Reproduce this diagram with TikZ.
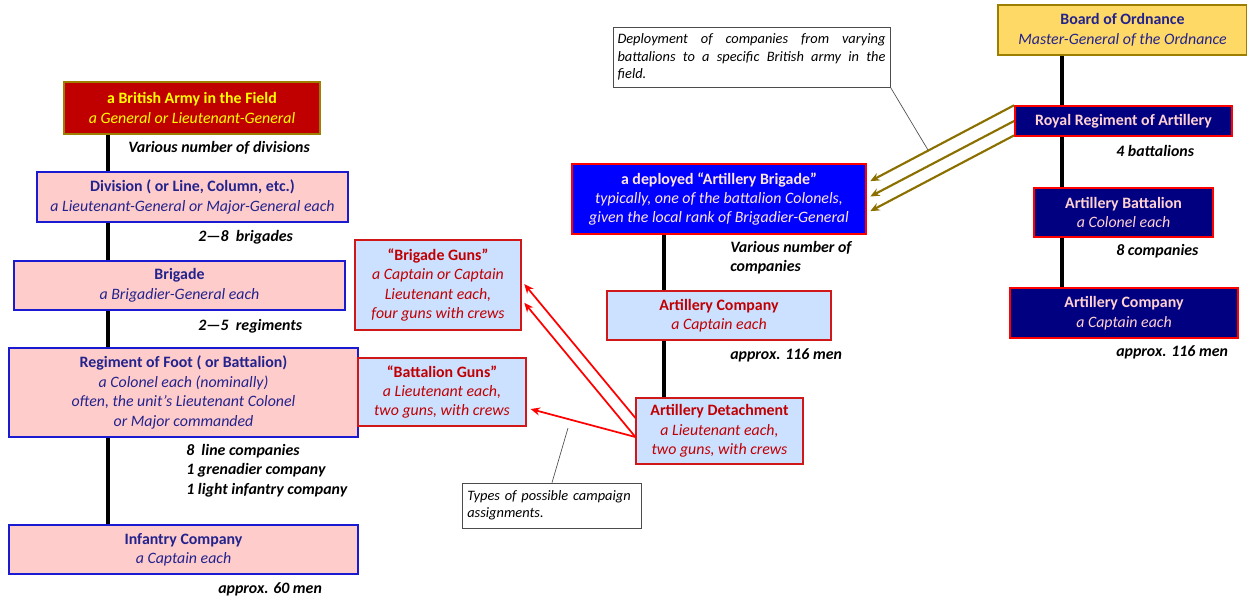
\documentclass[tikz,border=0pt]{standalone}
\usepackage{fontspec}
\setmainfont{Carlito}
\usepackage{xcolor}
\usepackage{tikz}
\usetikzlibrary{positioning,arrows.meta}

\definecolor{armyred}{HTML}{C00000}
\definecolor{armyedge}{HTML}{9C7F00}
\definecolor{armytext}{HTML}{FFFF00}
\definecolor{pinkfill}{HTML}{FFCCCC}
\definecolor{inkblue}{HTML}{23238C}
\definecolor{footedge}{HTML}{1A1AD0}
\definecolor{paleblue}{HTML}{CCE0FF}
\definecolor{gunred}{HTML}{C00000}
\definecolor{gunedge}{HTML}{D01818}
\definecolor{brigtext}{HTML}{FFE6E6}
\definecolor{ordyellow}{HTML}{FFD966}
\definecolor{navyfill}{HTML}{000080}
\definecolor{navytext}{HTML}{FFD2D2}
\definecolor{deployolive}{HTML}{8B7000}

\begin{document}
\begin{tikzpicture}[x=0.75pt,y=-0.75pt]
        % Styles for the boxes
        \tikzstyle{base} = [
            draw,
            line width=1.1pt,
            align=center,
            inner sep=2pt,
            font=\fontsize{11.9}{14.6}\selectfont
        ]
        \tikzstyle{army} = [base, fill=armyred, draw=armyedge, text=armytext]
        \tikzstyle{foot} = [base, fill=pinkfill, draw=footedge, text=inkblue]
        \tikzstyle{guns} = [base, fill=paleblue, draw=gunedge, text=gunred]
        \tikzstyle{deployed} = [base, fill=blue, draw=red, text=brigtext]
        \tikzstyle{ordnance} = [base, fill=ordyellow, draw=armyedge, text=inkblue]
        \tikzstyle{royal} = [base, fill=navyfill, draw=red, text=navytext]
        % Counts under the boxes, notes and lines
        \tikzstyle{count} = [anchor=west, align=left, inner sep=0pt,
            font=\fontsize{11.9}{14.6}\selectfont\bfseries\itshape]
        \tikzstyle{note} = [draw=gray!60!black, line width=0.5pt, fill=white,
            inner sep=3.5pt, font=\fontsize{10.8}{13}\selectfont\itshape]
        \tikzstyle{spine} = [line width=2.3pt]
        \tikzstyle{gunarrow} = [red, line width=1.3pt, shorten >=3pt, -{Stealth[length=7pt, width=6pt]}]
        \tikzstyle{deployarrow} = [deployolive, line width=1.6pt, shorten >=3pt, -{Stealth[length=7pt, width=6pt]}]

        \useasboundingbox (0,0) rectangle (1247,600);

        % Infantry side
        \node[army, minimum width=192pt, minimum height=39pt] (army) at (192,108)
            {\textbf{a British Army in the Field}\\\textit{a General or Lieutenant-General}};
        \node[foot, minimum width=233pt, minimum height=37.5pt] (division) at (192.5,197)
            {\textbf{Division ( or Line, Column, etc.)}\\\textit{a Lieutenant-General or Major-General each}};
        \node[foot, minimum width=248pt, minimum height=37pt] (brigade) at (179.5,285.5)
            {\textbf{Brigade}\\\textit{a Brigadier-General each}};
        \node[foot, minimum width=262pt, minimum height=67pt] (regiment) at (183.5,392.5)
            {\textbf{Regiment of Foot ( or Battalion)}\\\textit{a Colonel each (nominally)}\\
             \textit{often, the unit’s Lieutenant Colonel}\\\textit{or Major commanded}};
        \node[foot, minimum width=262pt, minimum height=37pt] (infco) at (183.5,549.5)
            {\textbf{Infantry Company}\\\textit{a Captain each}};

        % Guns attached to the infantry
        \node[guns, minimum width=124.5pt, minimum height=67.5pt] (bdeguns) at (438,285)
            {\textbf{“Brigade Guns”}\\\textit{a Captain or Captain}\\\textit{Lieutenant each,}\\\textit{four guns with crews}};
        \node[guns, minimum width=126pt, minimum height=51pt] (btnguns) at (442,392)
            {\textbf{“Battalion Guns”}\\\textit{a Lieutenant each,}\\\textit{two guns, with crews}};

        % Artillery in the field
        \node[deployed, minimum width=220.5pt, minimum height=52.5pt] (artbrigade) at (719,199)
            {\textbf{a deployed “Artillery Brigade”}\\\textit{typically, one of the battalion Colonels,}\\
             \textit{given the local rank of Brigadier-General}};
        \node[guns, minimum width=168pt, minimum height=37pt] (fieldco) at (719,315.5)
            {\textbf{Artillery Company}\\\textit{a Captain each}};
        \node[guns, minimum width=125pt, minimum height=49.5pt] (detach) at (719.5,431)
            {\textbf{Artillery Detachment}\\\textit{a Lieutenant each,}\\\textit{two guns, with crews}};

        % Board of Ordnance side
        \node[ordnance, minimum width=187pt, minimum height=37.5pt] (board) at (1122.5,30)
            {\textbf{Board of Ordnance}\\\textit{Master-General of the Ordnance}};
        \node[royal, minimum width=163pt, minimum height=22.5pt] (rra) at (1123.5,121)
            {\textbf{Royal Regiment of Artillery}};
        \node[royal, minimum width=134pt, minimum height=37pt] (battalion) at (1123.5,212.5)
            {\textbf{Artillery Battalion}\\\textit{a Colonel each}};
        \node[royal, minimum width=171pt, minimum height=37.5pt] (homeco) at (1124,313)
            {\textbf{Artillery Company}\\\textit{a Captain each}};

        % Counts
        \node[count] (ndiv) at (128,148) {Various number of divisions};
        \node[count] (nbde) at (198,237) {2—8\ \ brigades};
        \node[count] (nreg) at (198,326) {2—5\ \ regiments};
        \node[count] (ncos) at (186,470.5) {8\ \ line companies\\1 grenadier company\\1 light infantry company};
        \node[count] (ninf) at (218,589) {approx. 60 men};
        \node[count] (nfield) at (730,257.5) {Various number of\\companies};
        \node[count] (nmenL) at (730,355) {approx. 116 men};
        \node[count] (nbtn) at (1116,151) {4 battalions};
        \node[count] (nhome) at (1116,251) {8 companies};
        \node[count] (nmenR) at (1116,352) {approx. 116 men};

        % Black lines of command
        \coordinate (leftspine) at (108,0);
        \coordinate (midspine) at (664,0);
        \coordinate (rightspine) at (1062,0);
        \draw[spine] (army.south -| leftspine) -- (division.north -| leftspine);
        \draw[spine] (division.south -| leftspine) -- (brigade.north -| leftspine);
        \draw[spine] (brigade.south -| leftspine) -- (regiment.north -| leftspine);
        \draw[spine] (regiment.south -| leftspine) -- (infco.north -| leftspine);
        \draw[spine] (artbrigade.south -| midspine) -- (fieldco.north -| midspine);
        \draw[spine] (fieldco.south -| midspine) -- (detach.north -| midspine);
        \draw[spine] (board.south -| rightspine) -- (rra.north -| rightspine);
        \draw[spine] (rra.south -| rightspine) -- (battalion.north -| rightspine);
        \draw[spine] (battalion.south -| rightspine) -- (homeco.north -| rightspine);

        % Deployment of companies
        \draw[deployarrow] (rra.north west) -- ([yshift=12pt]artbrigade.east);
        \draw[deployarrow] (rra.west) -- ([yshift=0.5pt]artbrigade.east);
        \draw[deployarrow] ([yshift=1pt]rra.south west) -- ([yshift=-10.5pt]artbrigade.east);

        % Campaign assignments
        \draw[gunarrow] ([yshift=9.75pt]detach.west) -- ([yshift=3pt]bdeguns.east);
        \draw[gunarrow] ([yshift=-4.5pt]detach.west) -- ([yshift=-11pt]bdeguns.east);
        \draw[gunarrow] ([yshift=-4.5pt]detach.west) -- ([yshift=-12pt]btnguns.east);

        % Notes
        \node[note, text width=201pt, align=justify, minimum height=45pt] (deploynote) at (751.5,57)
            {Deployment of companies from varying\linebreak battalions to a specific British army in the\linebreak field.};
        \node[note, text width=127pt, align=left, minimum height=33.75pt] (campnote) at (552,505.5)
            {Types of possible campaign assignments.};
        \coordinate (deploytip) at (928,150);
        \coordinate (camptip) at (568,428);
        \draw[gray!60!black, line width=0.5pt] (deploynote.south east) -- (deploytip);
        \draw[gray!60!black, line width=0.5pt] (campnote.north) -- (camptip);

    \end{tikzpicture}
\end{document}
